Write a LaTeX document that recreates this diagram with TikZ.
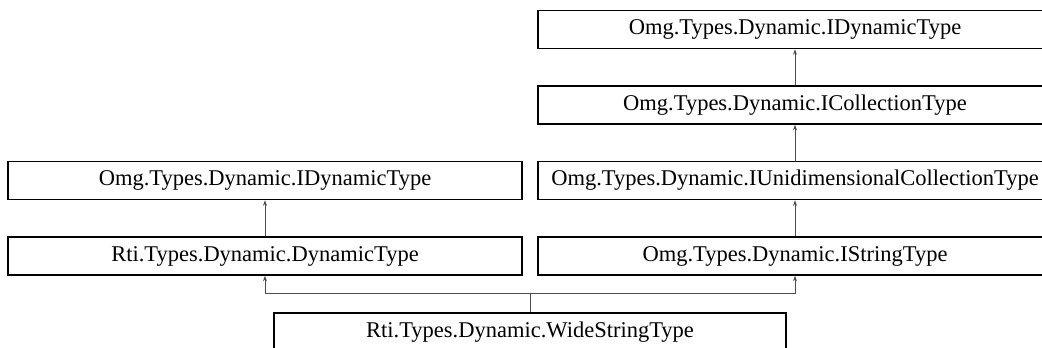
\documentclass[tikz,border=0pt]{standalone}
\usepackage{fontspec}
\setmainfont{Liberation Serif}
\usetikzlibrary{arrows.meta}
\begin{document}
\begin{tikzpicture}[x=1pt,y=-1pt,
  cls/.style={draw=black,line width=1.6pt,fill=white,minimum height=38pt,inner sep=0pt,
    font=\fontsize{22.5}{26}\selectfont},
  inh/.style={draw=black!70,line width=0.9pt,-{Stealth[length=5.5pt,width=4pt]}}]
\useasboundingbox (0,0) rectangle (1042,348);
\clip (0,0) rectangle (1042,348);
\node[cls,minimum width=514pt] (ldyn) at (265,180.5) {Omg.Types.Dynamic.IDynamicType};
\node[cls,minimum width=514pt] (rti) at (265,256) {Rti.Types.Dynamic.DynamicType};
\node[cls,minimum width=514pt] (rdyn) at (795,29.5) {Omg.Types.Dynamic.IDynamicType};
\node[cls,minimum width=514pt] (coll) at (795,105) {Omg.Types.Dynamic.ICollectionType};
\node[cls,minimum width=514pt] (uni) at (795,180.5) {Omg.Types.Dynamic.IUnidimensionalCollectionType};
\node[cls,minimum width=514pt] (str) at (795,256) {Omg.Types.Dynamic.IStringType};
\node[cls,minimum width=512pt] (wide) at (530,332) {Rti.Types.Dynamic.WideStringType};
\coordinate (j) at (530,293.5);
\draw[inh] (rti.north) -- (ldyn.south);
\draw[inh] (coll.north) -- (rdyn.south);
\draw[inh] (uni.north) -- (coll.south);
\draw[inh] (str.north) -- (uni.south);
\draw[inh] (wide.north) -- (j) -| (rti.south);
\draw[inh] (wide.north) -- (j) -| (str.south);
\end{tikzpicture}
\end{document}
